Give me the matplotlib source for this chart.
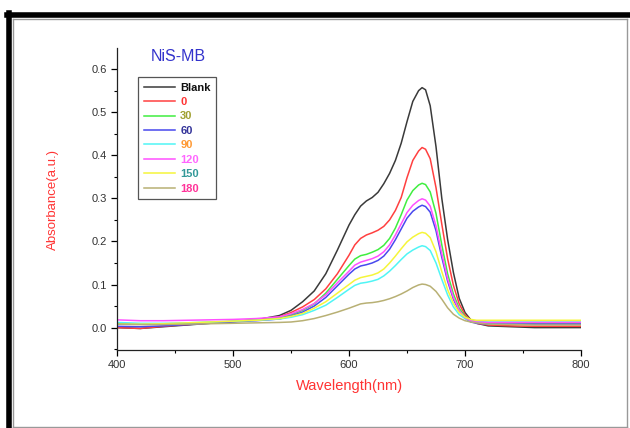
import matplotlib.pyplot as plt
from matplotlib.lines import Line2D

plt.rcParams['font.family'] = ['Liberation Sans', 'DejaVu Sans']

# wavelength grid (nm)
wavelength = [400, 420, 440, 460, 480, 500, 520, 540, 550, 560, 570, 580, 590, 600,
              605, 610, 615, 620, 625, 630, 635, 640, 645, 650, 655, 660, 663, 666, 670,
              675, 680, 685, 690, 695, 700, 705, 710, 720, 740, 760, 780, 800]

blank = [0.000, -0.002, 0.002, 0.006, 0.010, 0.014, 0.018, 0.028, 0.040, 0.060, 0.085, 0.125, 0.180, 0.238,
         0.262, 0.282, 0.294, 0.302, 0.314, 0.334, 0.358, 0.388, 0.428, 0.478, 0.525, 0.550, 0.557, 0.552, 0.515,
         0.420, 0.300, 0.205, 0.128, 0.068, 0.035, 0.018, 0.010, 0.004, 0.002, 0.000, 0.000, 0.000]
t0 = [0.000, -0.002, 0.003, 0.007, 0.011, 0.015, 0.018, 0.025, 0.035, 0.048, 0.065, 0.090, 0.125, 0.168,
      0.192, 0.207, 0.215, 0.220, 0.226, 0.235, 0.250, 0.272, 0.302, 0.348, 0.388, 0.410, 0.418, 0.414, 0.392,
      0.325, 0.240, 0.160, 0.098, 0.055, 0.030, 0.017, 0.010, 0.006, 0.004, 0.003, 0.003, 0.003]
t30 = [0.010, 0.008, 0.008, 0.010, 0.012, 0.014, 0.018, 0.022, 0.030, 0.040, 0.055, 0.080, 0.112, 0.144,
       0.159, 0.167, 0.170, 0.175, 0.181, 0.191, 0.207, 0.231, 0.262, 0.296, 0.318, 0.331, 0.335, 0.332, 0.315,
       0.265, 0.192, 0.125, 0.078, 0.045, 0.026, 0.017, 0.013, 0.011, 0.011, 0.010, 0.010, 0.010]
t60 = [0.003, 0.002, 0.004, 0.007, 0.010, 0.013, 0.016, 0.020, 0.027, 0.036, 0.050, 0.070, 0.097, 0.124,
       0.136, 0.143, 0.146, 0.150, 0.156, 0.166, 0.182, 0.204, 0.229, 0.254, 0.270, 0.280, 0.284, 0.281, 0.268,
       0.225, 0.163, 0.108, 0.066, 0.038, 0.022, 0.013, 0.010, 0.008, 0.008, 0.008, 0.008, 0.008]
t90 = [0.012, 0.010, 0.010, 0.011, 0.013, 0.015, 0.017, 0.020, 0.024, 0.030, 0.040, 0.052, 0.070, 0.089,
       0.098, 0.103, 0.105, 0.108, 0.112, 0.120, 0.131, 0.144, 0.158, 0.171, 0.180, 0.187, 0.190, 0.188, 0.179,
       0.150, 0.112, 0.076, 0.048, 0.030, 0.021, 0.016, 0.014, 0.013, 0.013, 0.013, 0.013, 0.013]
t120 = [0.018, 0.016, 0.016, 0.017, 0.018, 0.019, 0.021, 0.025, 0.032, 0.042, 0.056, 0.076, 0.104, 0.131,
        0.145, 0.152, 0.156, 0.160, 0.166, 0.176, 0.192, 0.215, 0.241, 0.267, 0.284, 0.295, 0.299, 0.296, 0.282,
        0.236, 0.172, 0.113, 0.070, 0.040, 0.023, 0.016, 0.013, 0.012, 0.012, 0.012, 0.012, 0.012]
t150 = [0.008, 0.008, 0.009, 0.011, 0.013, 0.015, 0.017, 0.021, 0.026, 0.033, 0.045, 0.060, 0.080, 0.100,
        0.110, 0.116, 0.119, 0.122, 0.127, 0.136, 0.150, 0.166, 0.183, 0.199, 0.210, 0.218, 0.221, 0.219, 0.209,
        0.176, 0.130, 0.088, 0.056, 0.035, 0.024, 0.019, 0.017, 0.017, 0.017, 0.017, 0.017, 0.017]
t180 = [0.008, 0.007, 0.007, 0.008, 0.009, 0.010, 0.011, 0.012, 0.013, 0.016, 0.021, 0.028, 0.036, 0.045,
        0.050, 0.055, 0.057, 0.058, 0.060, 0.063, 0.067, 0.072, 0.078, 0.085, 0.093, 0.099, 0.101, 0.100, 0.096,
        0.084, 0.066, 0.046, 0.031, 0.022, 0.016, 0.013, 0.011, 0.008, 0.007, 0.006, 0.006, 0.006]

labels = ['Blank', '0', '30', '60', '90', '120', '150', '180']
series = [blank, t0, t30, t60, t90, t120, t150, t180]
line_colors = ['#3a3a3a', '#ff4040', '#40ee40', '#4848ee', '#50f5f5', '#ff50ff', '#f5f53a', '#b8b074']
text_colors = ['#111111', '#ff3333', '#a0a030', '#333399', '#ff9933', '#ff66ff', '#339999', '#ff3399']

fig = plt.figure(figsize=(6.3, 4.28), dpi=100)
ax = fig.add_axes([117 / 630, 1 - 350 / 428, 464 / 630, 302 / 428])

for y, c, lab in zip(series, line_colors, labels):
    ax.plot(wavelength, y, color=c, lw=1.1, label=lab)

ax.set_xlim(400, 800)
ax.set_ylim(-0.052, 0.649)
ax.set_xticks([400, 500, 600, 700, 800])
ax.set_xticks([450, 550, 650, 750], minor=True)
ax.set_yticks([0.0, 0.1, 0.2, 0.3, 0.4, 0.5, 0.6])
ax.set_yticks([-0.05, 0.05, 0.15, 0.25, 0.35, 0.45, 0.55], minor=True)
ax.set_yticklabels(['0.0', '0.1', '0.2', '0.3', '0.4', '0.5', '0.6'])
ax.tick_params(axis='both', which='major', length=4, width=0.9, labelsize=8, labelcolor='#333333', pad=3)
ax.tick_params(axis='both', which='minor', length=2.5, width=0.8)

for s in ['top', 'right']:
    ax.spines[s].set_visible(False)
for s in ['left', 'bottom']:
    ax.spines[s].set_linewidth(0.9)
    ax.spines[s].set_color('#222222')

ax.set_xlabel('Wavelength(nm)', fontsize=10.5, color='#ff3333', labelpad=7)
ax.set_ylabel('Absorbance(a.u.)', fontsize=9.5, color='#ff3333', labelpad=24)

fig.text(178 / 630, 1 - 57 / 428, 'NiS-MB', fontsize=11.5, color='#3333cc', ha='center', va='center')

# legend with coloured bold labels
handles = [Line2D([], [], color=c, lw=1.1) for c in line_colors]
leg = ax.legend(handles, labels, loc='upper left',
                bbox_to_anchor=(138 / 630, 1 - 77 / 428), bbox_transform=fig.transFigure,
                fancybox=False, framealpha=1, edgecolor='#555555',
                prop={'size': 8, 'weight': 'bold'},
                handlelength=2.8, handletextpad=0.5, labelspacing=0.4,
                borderpad=0.5, borderaxespad=0)
leg.get_frame().set_linewidth(0.9)
for t, c in zip(leg.get_texts(), text_colors):
    t.set_color(c)

# outer picture frame: thick black top/left, thin grey inner lines
fig.add_artist(Line2D([7 / 630, 1], [1 - 15 / 428, 1 - 15 / 428], color='black', lw=4, transform=fig.transFigure))
fig.add_artist(Line2D([9 / 630, 9 / 630], [0, 1 - 13 / 428], color='black', lw=4, transform=fig.transFigure))
fig.add_artist(Line2D([13 / 630, 627 / 630], [1 - 19 / 428, 1 - 19 / 428], color='#999999', lw=1, transform=fig.transFigure))
fig.add_artist(Line2D([13 / 630, 13 / 630], [1 / 428, 1 - 19 / 428], color='#999999', lw=1, transform=fig.transFigure))
fig.add_artist(Line2D([627 / 630, 627 / 630], [1 / 428, 1 - 19 / 428], color='#999999', lw=1, transform=fig.transFigure))
fig.add_artist(Line2D([13 / 630, 627 / 630], [1.5 / 428, 1.5 / 428], color='#999999', lw=1, transform=fig.transFigure))

plt.savefig('out.png', dpi=100)
